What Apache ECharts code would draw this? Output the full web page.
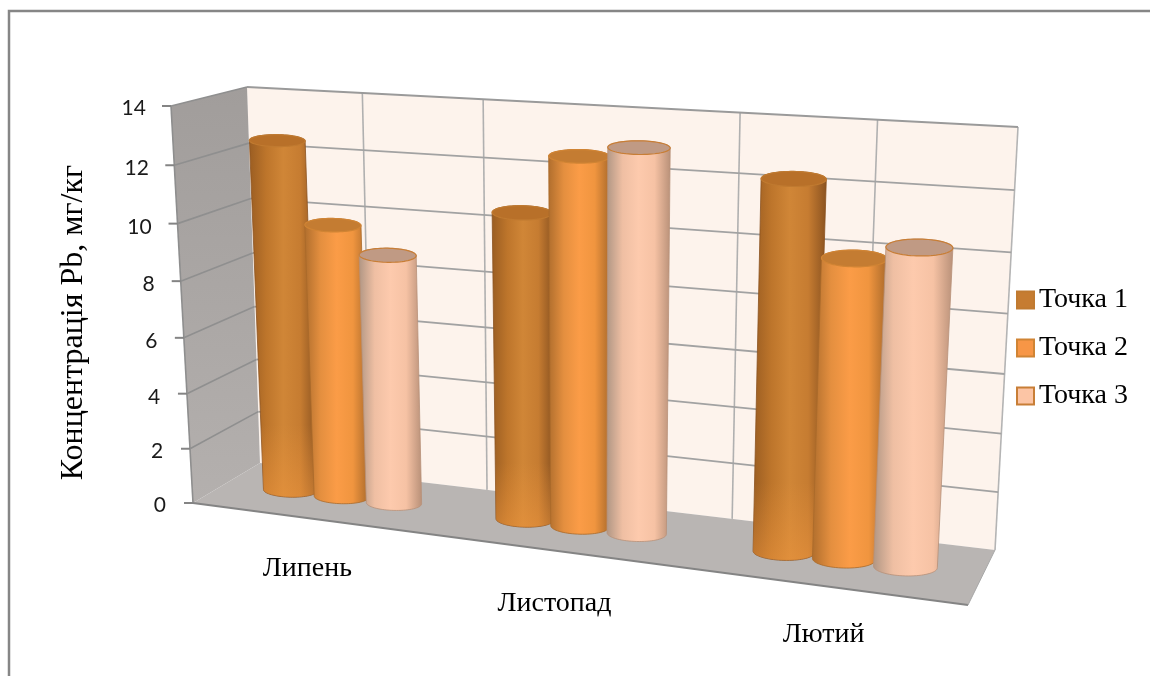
<!DOCTYPE html>
<html>
<head>
<meta charset="utf-8">
<style>html,body{margin:0;padding:0;background:#fff}#chart{width:1150px;height:676px}</style>
<script src="https://cdn.jsdelivr.net/npm/echarts@6/dist/echarts.min.js"></script>
</head>
<body>
<div id="chart"></div>
<script>
// Chart data
const months = ['Липень', 'Листопад', 'Лютий'];
const seriesNames = ['Точка 1', 'Точка 2', 'Точка 3'];
const point1 = [12.6, 10.7, 12.4];
const point2 = [9.8, 12.7, 10.0];
const point3 = [8.9, 13.1, 10.5];
const valueTicks = [0, 2, 4, 6, 8, 10, 12, 14];
const axisTitle = 'Концентрація Pb, мг/кг';

// Box corners on screen: floor and ceiling planes, ordered
// front-left, front-right, back-right, back-left.
const FLOOR = [[193, 503], [968, 605], [995, 550], [260, 463]];
const CEILING = [[171, 106], [993, 154], [1018, 127], [247, 87]];
const WALL_VERTICALS = [0.176, 0.349, 0.683, 0.845];
const HEIGHT_EASE = 0.95;

// Cylinder geometry in box units
const CATEGORY_NUDGE = [0.01, 0.014, 0.01], DEPTH = 0.5;
const STEP_AT_LEFT = 0.0797, STEP_FALLOFF = 0.0102;
const RADIUS_AT_LEFT = 0.0418, RADIUS_FALLOFF = 0.0063;
const RADIUS_V_FLOOR = 0.17, RADIUS_V_TOP = 0.29;
const ELLIPSE_TILT = 0.2;

// Category label offsets (top, left), the labels follow the sloping front edge
const MONTH_SHIFT = [[52, 22], [87, 3], [118, 28]];

const SERIF = '"Liberation Serif", "Times New Roman", serif';

const LOOKS = [
  { cap: '#b87029', capEdge: '#c07a30', swatch: '#c67c31',
    stops: ['#9a5d22', '#bd752b', '#d08637', '#c67c31', '#8a5220'], glow: 'rgba(245,155,65,0.45)' },
  { cap: '#c47c32', capEdge: '#d08434', swatch: '#f79646',
    stops: ['#b06e2d', '#e48f3f', '#fb9c47', '#f0953f', '#a9692a'], glow: null },
  { cap: '#c09a84', capEdge: '#c87e36', swatch: '#fcc5a5',
    stops: ['#b09684', '#efbfa3', '#fdcaad', '#f6c2a4', '#b89078'], glow: null }
];

function quadMap(q) {
  const [p0, p1, p2, p3] = q;
  const sx = p0[0] - p1[0] + p2[0] - p3[0], sy = p0[1] - p1[1] + p2[1] - p3[1];
  const dx1 = p1[0] - p2[0], dx2 = p3[0] - p2[0], dy1 = p1[1] - p2[1], dy2 = p3[1] - p2[1];
  const den = dx1 * dy2 - dx2 * dy1;
  const g = (sx * dy2 - dx2 * sy) / den, h = (dx1 * sy - sx * dy1) / den;
  const a = p1[0] - p0[0] + g * p1[0], b = p3[0] - p0[0] + h * p3[0];
  const d = p1[1] - p0[1] + g * p1[1], e = p3[1] - p0[1] + h * p3[1];
  return (u, v) => {
    const w = 1 + g * u + h * v;
    return [(a * u + b * v + p0[0]) / w, (d * u + e * v + p0[1]) / w];
  };
}
const floorAt = quadMap(FLOOR), ceilingAt = quadMap(CEILING);
const eased = t => HEIGHT_EASE * t / (1 - (1 - HEIGHT_EASE) * t);
// u: along the categories, v: depth (0 front), t: share of the value range
function project(u, v, t) {
  const f = floorAt(u, v), c = ceilingAt(u, v), s = eased(t);
  return [f[0] + (c[0] - f[0]) * s, f[1] + (c[1] - f[1]) * s];
}
const shareOf = (api, sys, value) => (sys.y + sys.height - api.coord([0, value])[1]) / sys.height;

function renderBox(params, api) {
  const sys = params.coordSys, kids = [];
  const t = shareOf(api, sys, api.value(0));
  const line = (a, b, stroke, lineWidth) => ({
    type: 'line', shape: { x1: a[0], y1: a[1], x2: b[0], y2: b[1] },
    style: { stroke, lineWidth }
  });
  if (params.dataIndex === 0) {
    kids.push({ type: 'polygon', shape: { points: [project(0, 1, 0), project(1, 1, 0), project(1, 1, 1), project(0, 1, 1)] },
      style: { fill: '#fdf3ec' } });
    kids.push({ type: 'polygon', shape: { points: [project(0, 0, 0), project(0, 1, 0), project(0, 1, 1), project(0, 0, 1)] },
      style: { fill: new echarts.graphic.LinearGradient(0, 0, 0, 1, [{ offset: 0, color: '#a19d9b' }, { offset: 1, color: '#b4b0ae' }]) } });
    kids.push({ type: 'polygon', shape: { points: [project(0, 0, 0), project(1, 0, 0), project(1, 1, 0), project(0, 1, 0)] },
      style: { fill: '#b9b5b3' } });
    WALL_VERTICALS.forEach(u => kids.push(line(project(u, 1, 0), project(u, 1, 1), '#b0b0b0', 1.6)));
    kids.push(line(project(1, 1, 0), project(1, 1, 1), '#b4b4b4', 1.6));
    kids.push(line(project(0, 0, 0), project(0, 0, 1), '#8e8e8e', 1.6));
    kids.push(line(project(0, 0, 0), project(1, 0, 0), '#848484', 2));
    kids.push(line(project(1, 0, 0), project(1, 1, 0), '#a8a8a8', 1));
  }
  if (t > 0) {
    kids.push(line(project(0, 1, t), project(1, 1, t), t === 1 ? '#9a9a9a' : '#a2a2a2', 1.8));
    kids.push(line(project(0, 0, t), project(0, 1, t), '#8f8f8f', 1.6));
  }
  const front = project(0, 0, t);
  kids.push(line([front[0] - 9, front[1]], front, '#848484', 2));
  return { type: 'group', children: kids };
}

function makeCylinderRenderer(index) {
  const look = LOOKS[index];
  return function (params, api) {
    const sys = params.coordSys;
    const cx = api.coord([api.value(0), 0])[0];
    const uMid = (cx - sys.x) / sys.width + CATEGORY_NUDGE[api.value(0)];
    const u0 = uMid + (index - 1) * (STEP_AT_LEFT - STEP_FALLOFF * uMid);
    const radiusU = RADIUS_AT_LEFT - RADIUS_FALLOFF * u0;
    const t = shareOf(api, sys, api.value(1));
    // Nearly level ellipse on the plane at height t
    const ring = (share) => {
      const rv = RADIUS_V_FLOOR + (RADIUS_V_TOP - RADIUS_V_FLOOR) * share, pts = [];
      const c = project(u0, DEPTH, share), eu = project(u0 + radiusU, DEPTH, share), ev = project(u0, DEPTH + rv, share);
      for (let i = 0; i < 72; i++) {
        const a = i * Math.PI / 36, ca = Math.cos(a), sa = Math.sin(a);
        pts.push([c[0] + (eu[0] - c[0]) * ca, c[1] + ELLIPSE_TILT * (eu[1] - c[1]) * ca + (ev[1] - c[1]) * sa]);
      }
      return pts;
    };
    const extreme = (pts, sign) => pts.reduce((best, p, i) => sign * p[0] > sign * pts[best][0] ? i : best, 0);
    const arc = (pts, from, to) => {
      const out = [];
      for (let i = from; ; i = (i + 1) % pts.length) { out.push(pts[i]); if (i === to) break; }
      return out;
    };
    const base = ring(0), top = ring(t);
    const body = arc(base, extreme(base, -1), extreme(base, 1))
      .concat(arc(top, extreme(top, 1), extreme(top, -1)));
    const n = look.stops.length - 1;
    const kids = [{
      type: 'polygon', shape: { points: body },
      style: {
        fill: new echarts.graphic.LinearGradient(0, 0, 1, 0,
          look.stops.map((color, i) => ({ offset: i / n, color }))),
        stroke: look.stops[n], lineWidth: 0.8
      }
    }];
    if (look.glow) {
      kids.push({ type: 'polygon', shape: { points: body },
        style: { fill: new echarts.graphic.LinearGradient(0, 0, 0, 1, [
          { offset: 0, color: 'rgba(245,155,65,0)' }, { offset: 0.8, color: 'rgba(245,155,65,0)' }, { offset: 1, color: look.glow }]) } });
    }
    kids.push({ type: 'polygon', shape: { points: top },
      style: { fill: look.cap, stroke: look.capEdge, lineWidth: 1.2 } });
    return { type: 'group', children: kids };
  };
}

const valuesBySeries = [point1, point2, point3];
const chart = echarts.init(document.getElementById('chart'), null, { renderer: 'canvas' });

// Tick labels follow the slanted and slightly compressed front edge of the wall
const GRID_H = 397;
const tickRich = {};
valueTicks.forEach(v => {
  const t = v / 14;
  const drop = GRID_H * (t - eased(t)) * 1.3 + 2;
  tickRich['t' + v] = { padding: [drop * 2, v * 1.43, 0, 0] };
});
const monthRich = {};
months.forEach((m, i) => { monthRich['m' + i] = { padding: [MONTH_SHIFT[i][0], 0, 0, MONTH_SHIFT[i][1]] }; });

chart.setOption({
  animation: false,
  backgroundColor: '#ffffff',
  graphic: [{
    type: 'polyline', silent: true,
    shape: { points: [[9, 676], [9, 11], [1150, 11]] },
    style: { stroke: '#868686', lineWidth: 2.5, fill: 'none' }
  }],
  grid: { left: 168, top: 106, width: 770, height: GRID_H },
  legend: {
    orient: 'vertical', left: 1011, top: 281,
    itemWidth: 17, itemHeight: 17, itemGap: 20, icon: 'rect',
    data: seriesNames.map((name, i) => ({
      name, itemStyle: { color: LOOKS[i].swatch, borderColor: LOOKS[i].capEdge, borderWidth: 2 }
    })),
    textStyle: { fontFamily: SERIF, fontSize: 28, color: '#000' }
  },
  xAxis: {
    type: 'category', data: months,
    axisLine: { show: false }, axisTick: { show: false }, splitLine: { show: false },
    axisLabel: {
      margin: 0, fontFamily: SERIF, fontSize: 28, color: '#000',
      formatter: (name) => `{m${months.indexOf(name)}|${name}}`,
      rich: monthRich
    }
  },
  yAxis: {
    type: 'value', min: 0, max: 14, interval: 2,
    name: axisTitle, nameLocation: 'middle', nameGap: 78,
    nameTextStyle: { fontFamily: SERIF, fontSize: 32, color: '#000', padding: [0, 36, 0, 0] },
    axisLine: { show: false }, axisTick: { show: false }, splitLine: { show: false },
    axisLabel: {
      margin: 2, fontFamily: 'Lato', fontSize: 21, color: '#1a1a1a',
      formatter: (v) => `{t${v}|${v}}`,
      rich: tickRich
    }
  },
  series: [{
    type: 'custom', name: 'box', silent: true, z: 1,
    encode: { y: 0 }, data: valueTicks.map(v => [v]),
    renderItem: renderBox
  }].concat(seriesNames.map((name, i) => ({
    type: 'custom', name, z: 2 + i,
    encode: { x: 0, y: 1 },
    data: valuesBySeries[i].map((v, c) => [c, v]),
    renderItem: makeCylinderRenderer(i)
  })))
});
</script>
</body>
</html>
